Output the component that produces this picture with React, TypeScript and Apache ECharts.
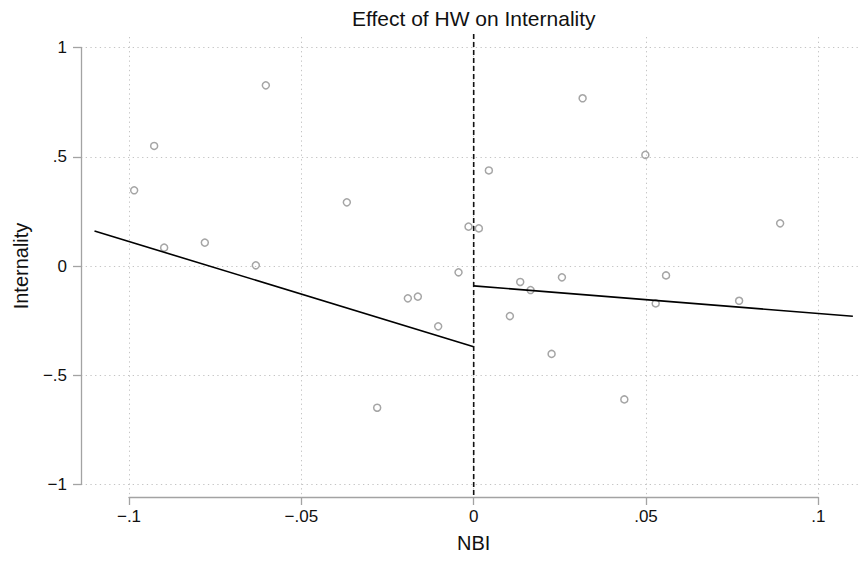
import React, { useEffect, useRef } from "react";
import * as echarts from "echarts";

const titleText = "Effect of HW on Internality";
const xName = "NBI";
const yName = "Internality";

const xTicks = [-0.1, -0.05, 0, 0.05, 0.1];
const yTicks = [-1, -0.5, 0, 0.5, 1];

const pointsX = [
  -0.0985, -0.0927, -0.0898, -0.078, -0.0632, -0.0603, -0.0368, -0.028, -0.0191,
  -0.0162, -0.0103, -0.0044, -0.0015, 0.0015, 0.0044, 0.0105, 0.0135, 0.0165,
  0.0226, 0.0256, 0.0316, 0.0437, 0.0498, 0.0528, 0.0558, 0.077, 0.0889,
];
const pointsY = [
  0.346, 0.549, 0.084, 0.107, 0.003, 0.826, 0.291, -0.648, -0.148, -0.14, -0.276,
  -0.029, 0.18, 0.172, 0.437, -0.229, -0.073, -0.11, -0.402, -0.052, 0.767, -0.61,
  0.508, -0.171, -0.043, -0.159, 0.195,
];

const leftFitX = [-0.11, 0];
const leftFitY = [0.16, -0.369];
const rightFitX = [0, 0.11];
const rightFitY = [-0.091, -0.23];

const cutoffX = [0, 0];
const cutoffY = [-1.047, 1.065];

const FONT = "'Liberation Sans', Arial, Helvetica, sans-serif";

function fmt(v: number): string {
  const r = Math.round(v * 1000) / 1000;
  if (r === 0) return "0";
  let s = String(Math.abs(r));
  if (s.startsWith("0.")) s = s.slice(1);
  return (r < 0 ? "\u2212" : "") + s;
}

export default function App() {
  const ref = useRef<HTMLDivElement>(null);
  useEffect(() => {
    if (!ref.current) return;
    const chart = echarts.init(ref.current, undefined, { renderer: "svg" });
    const axisGray = "#a3a3a3";
    const gridGray = "#c4c4c4";
    chart.setOption({
      animation: false,
      backgroundColor: "#ffffff",
      title: {
        text: titleText,
        left: 352,
        top: 8,
        padding: 0,
        textStyle: { fontFamily: FONT, fontSize: 21, fontWeight: "normal", color: "#111" },
      },
      grid: [
        { left: 82, right: 0, top: 37, bottom: 66 },
        { left: 129, right: 41.7, top: 37, bottom: 64 },
        { left: 81, right: 0, top: 47.5, bottom: 76.5 },
      ],
      xAxis: [
        {
          gridIndex: 0,
          type: "value",
          min: -0.11363,
          max: 0.11207,
          show: false,
        },
        {
          gridIndex: 1,
          type: "value",
          min: xTicks[0],
          max: xTicks[xTicks.length - 1],
          interval: 0.05,
          name: xName,
          nameLocation: "middle",
          nameGap: 36,
          nameTextStyle: { fontFamily: FONT, fontSize: 20, color: "#111" },
          axisLine: { show: true, onZero: false, lineStyle: { color: axisGray, width: 1.3 } },
          axisTick: { show: true, length: 8, lineStyle: { color: axisGray, width: 1.3 } },
          axisLabel: {
            margin: 11,
            fontFamily: FONT,
            fontSize: 17,
            color: "#111",
            formatter: (v: number) => fmt(v),
          },
          splitLine: { show: true, lineStyle: { color: gridGray, width: 1, type: [1.3, 3.4] } },
        },
        { gridIndex: 2, type: "value", show: false },
      ],
      yAxis: [
        {
          gridIndex: 0,
          type: "value",
          min: -1.0471,
          max: 1.0471,
          show: false,
        },
        { gridIndex: 1, type: "value", show: false },
        {
          gridIndex: 2,
          type: "value",
          min: yTicks[0],
          max: yTicks[yTicks.length - 1],
          interval: 0.5,
          name: yName,
          nameLocation: "middle",
          nameGap: 50,
          nameTextStyle: { fontFamily: FONT, fontSize: 20, color: "#111" },
          axisLine: { show: true, onZero: false, lineStyle: { color: axisGray, width: 1.3 } },
          axisTick: { show: true, length: 8, lineStyle: { color: axisGray, width: 1.3 } },
          axisLabel: {
            margin: 14,
            fontFamily: FONT,
            fontSize: 17,
            color: "#111",
            formatter: (v: number) => fmt(v),
          },
          splitLine: { show: true, lineStyle: { color: gridGray, width: 1, type: [1.3, 3.4] } },
        },
      ],
      series: [
        {
          type: "scatter",
          xAxisIndex: 0,
          yAxisIndex: 0,
          symbol: "circle",
          symbolSize: 7,
          itemStyle: { color: "rgba(255,255,255,0)", borderColor: "#8e8e8e", borderWidth: 1.5 },
          data: pointsX.map((x, i) => [x, pointsY[i]]),
          z: 3,
        },
        {
          type: "line",
          xAxisIndex: 0,
          yAxisIndex: 0,
          showSymbol: false,
          lineStyle: { color: "#000", width: 1.6 },
          data: leftFitX.map((x, i) => [x, leftFitY[i]]),
          z: 4,
        },
        {
          type: "line",
          xAxisIndex: 0,
          yAxisIndex: 0,
          showSymbol: false,
          lineStyle: { color: "#000", width: 1.6 },
          data: rightFitX.map((x, i) => [x, rightFitY[i]]),
          z: 4,
        },
        {
          type: "line",
          xAxisIndex: 0,
          yAxisIndex: 0,
          showSymbol: false,
          clip: false,
          lineStyle: { color: "#111", width: 1.6, type: [5, 3] },
          data: cutoffX.map((x, i) => [x, cutoffY[i]]),
          z: 5,
        },
      ],
    });
    return () => chart.dispose();
  }, []);
  return (
    <div
      ref={ref}
      style={{ position: "fixed", left: 0, top: 0, width: 860, height: 561, background: "#fff" }}
    />
  );
}
